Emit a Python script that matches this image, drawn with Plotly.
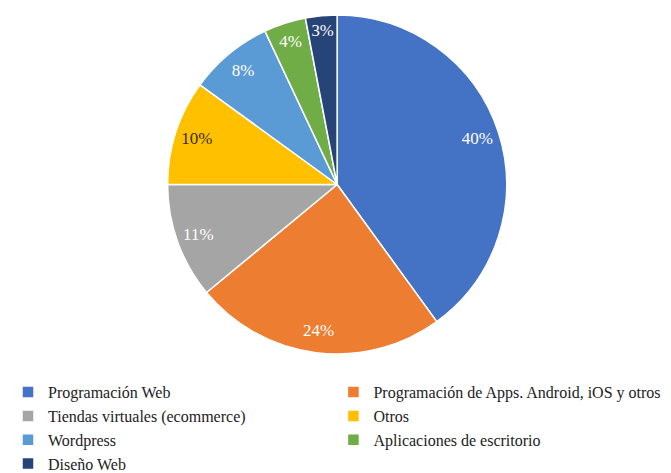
import plotly.graph_objects as go

categories = ["Programación Web", "Programación de Apps. Android, iOS y otros",
              "Tiendas virtuales (ecommerce)", "Otros", "Wordpress",
              "Aplicaciones de escritorio", "Diseño Web"]
values = [40, 24, 11, 10, 8, 4, 3]
colors = ["#4472C4", "#ED7D31", "#A5A5A5", "#FFC000", "#5B9BD5", "#70AD47", "#264478"]
text_colors = ["white", "white", "white", "#3a2c00", "white", "white", "white"]

serif = "Liberation Serif, Times New Roman, serif"
pie_domain = dict(x=[0, 0.981], y=[0.0389, 0.9806])

fig = go.Figure()
# the slices
fig.add_trace(go.Pie(labels=categories, values=values,
                     sort=False, direction="clockwise", rotation=0,
                     marker=dict(colors=colors, line=dict(color="white", width=1.5)),
                     textinfo="none",
                     domain=pie_domain,
                     hoverinfo="label+percent"))
# transparent ring on top, only to put the labels near the outer edge
fig.add_trace(go.Pie(labels=categories, values=values, hole=0.74,
                     sort=False, direction="clockwise", rotation=0,
                     marker=dict(colors=["rgba(0,0,0,0)"] * len(values),
                                 line=dict(width=0)),
                     texttemplate="%{value}%", textposition="inside",
                     insidetextorientation="horizontal",
                     textfont=dict(family=serif, size=17, color=text_colors),
                     domain=pie_domain, showlegend=False,
                     hoverinfo="skip"))

fig.update_layout(width=671, height=473,
                  paper_bgcolor="white", plot_bgcolor="white",
                  margin=dict(l=0, r=0, t=0, b=113, autoexpand=False),
                  showlegend=True,
                  font=dict(family=serif, size=16, color="#222222"),
                  legend=dict(orientation="h", x=0, xanchor="left",
                              y=-0.02, yanchor="top",
                              entrywidth=0.485, entrywidthmode="fraction",
                              itemwidth=30, traceorder="normal",
                              font=dict(family=serif, size=16, color="#222222")))

fig.write_html("out.html")
